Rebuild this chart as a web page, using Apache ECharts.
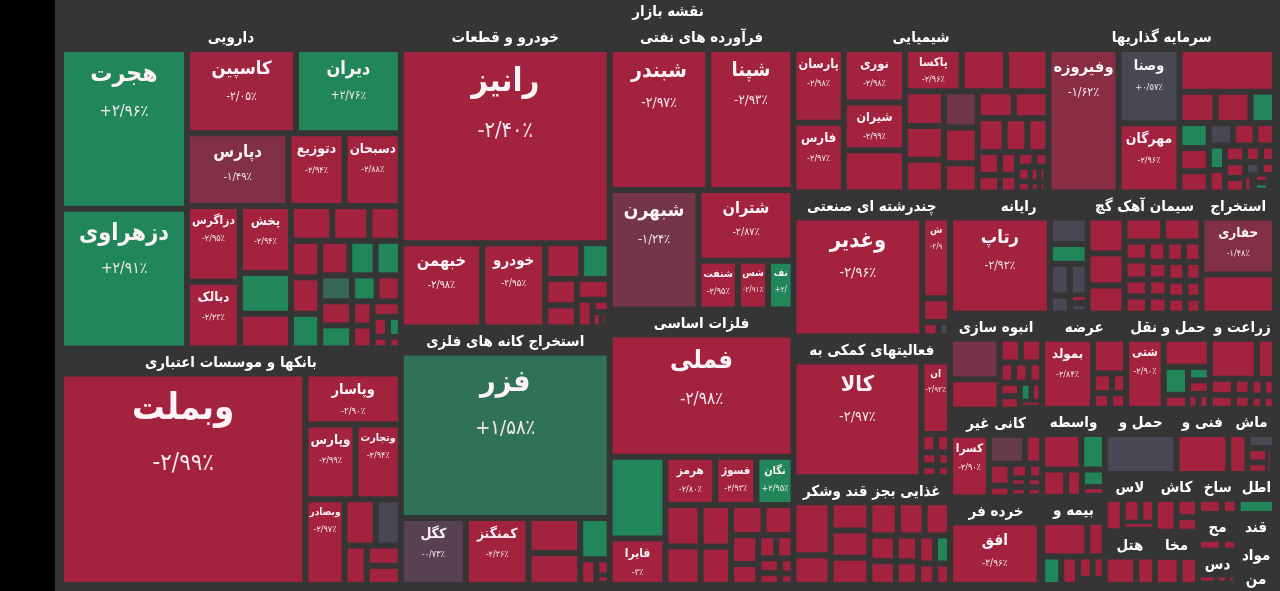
<!DOCTYPE html>
<html>
<head>
<meta charset="utf-8">
<title>نقشه بازار</title>
<script src="https://cdn.jsdelivr.net/npm/echarts@6.0.0/dist/echarts.min.js"></script>
<style>
  html, body { margin: 0; padding: 0; background: #000; }
  #chart { position: absolute; left: 55px; top: 0; width: 1225px; height: 591px; background: #353535; }
</style>
</head>
<body>
<div id="chart"></div>
<script>
// گروه ها (اندازه تقریبی هر گروه از روی تصویر)
const sectorNames = ['دارویی', 'بانکها و موسسات اعتباری', 'خودرو و قطعات', 'استخراج کانه های فلزی',
  'فرآورده های نفتی', 'فلزات اساسی', 'شیمیایی', 'سرمایه گذاریها', 'چندرشته ای صنعتی',
  'فعالیتهای کمکی به', 'غذایی بجز قند وشکر', 'رایانه', 'سیمان آهک گچ', 'استخراج', 'انبوه سازی',
  'کانی غیر', 'خرده فروشی', 'عرضه', 'حمل و نقل', 'زراعت و', 'بیمه و', 'واسطه', 'حمل و', 'فنی و',
  'ماشین', 'لاستیک', 'هتل', 'کاشی', 'مخابرات', 'ساخت', 'اطلاعات', 'محصولات', 'دستگاه', 'قند',
  'مواد', 'منسوجات'];
const sectorSizes = [110825, 80817, 63688, 54051, 52767, 50922, 43200, 38400, 22608, 22137, 16956,
  16740, 13860, 8950, 8900, 8150, 8100, 8050, 8000, 6250, 5544, 5544, 4680, 3380, 3055,
  2900, 2700, 2500, 2300, 1600, 1500, 1450, 1350, 1050, 900, 750];

// نمادها: نام، اندازه، درصد تغییر
const pharmaNames = ['هجرت', 'دزهراوی', 'کاسپین', 'دیران', 'دپارس', 'دتوزیع', 'دسبحان', 'دزاگرس', 'دبالک', 'پخش'];
const pharmaSizes = [19716, 17236, 8988, 8652, 7227, 4015, 4010, 3922, 3445, 3350, 2040, 1734, 1400, 1260, 1073, 1050, 1044, 990, 986, 891, 858, 810, 750, 720, 621, 620, 483, 459, 432, 300, 252, 180, 140];
const pharmaChanges = [2.96, 2.91, -2.05, 2.76, -1.49, -2.94, -2.88, -2.95, -2.23, -2.94, 2.9, -2.9, -2.9, -2.9, -2.9, -2.9, -2.9, 2.9, -2.9, 2.9, 2.9, 1.3, -2.9, 2.9, 2.9, -2.9, -2.9, -2.9, -2.9, -2.9, 2.9, -2.9, -2.9];

const bankNames = ['وبملت', 'وپاسار', 'وپارس', 'وتجارت', 'وبصادر'];
const bankSizes = [49800, 4700, 3610, 3268, 3236, 1380, 1120, 840, 665, 630];
const bankChanges = [-2.99, -2.90, -2.99, -2.94, -2.97, -2.9, -0.3, -2.9, -2.9, -2.9];

const autoNames = ['رانیز', 'خبهمن', 'خودرو'];
const autoSizes = [38784, 6552, 5082, 1224, 972, 806, 672, 651, 414, 200, 150, 100];
const autoChanges = [-2.40, -2.98, -2.95, -2.9, 2.9, -2.9, -2.9, -2.9, -2.9, -2.9, -2.9, -2.9];

const oreNames = ['فزر', 'کگل', 'کمنگنز'];
const oreSizes = [32522, 4092, 3960, 1700, 1550, 1147, 392, 200, 120];
const oreChanges = [1.58, -0.73, -2.36, -2.9, -2.9, 2.9, -2.9, -2.9, -2.9];

const oilNames = ['شبندر', 'شپنا', 'شبهرن', 'شتران', 'شنفت', 'شسپا', 'نفت'];
const oilSizes = [13205, 11398, 10089, 6405, 1824, 1392, 1176];
const oilChanges = [-2.97, -2.93, -1.24, -2.87, -2.95, -2.91, 2.9];

const metalNames = ['فملی', '', 'فایرا', 'هرمز', 'فسوژ', 'نگان'];
const metalSizes = [21548, 4362, 2483, 2304, 1901, 1715, 1404, 1296, 1209, 1116, 936, 864, 756, 552, 399, 384, 300, 250, 200, 150];
const metalChanges = [-2.98, 2.9, -3, -2.80, -2.93, 2.95, -2.9, -2.9, -2.9, -2.9, -2.9, -2.9, -2.9, -2.9, -2.9, -2.9, -2.9, -2.9, -2.9, -2.9];

const chemNames = ['پارسان', 'فارس', 'نوری', 'شیران', '', 'پاکسا'];
const chemSizes = [3650, 3450, 3233, 2867, 2562, 2352, 1848, 1764, 1330, 1292, 1254, 1200, 1188, 972, 957, 918, 900, 756, 702, 504, 384, 384, 300, 250, 200, 200, 150, 150, 120, 100, 80];
const chemChanges = [-2.98, -2.97, -2.98, -2.99, -2.9, -2.96, -2.9, -2.9, -2.9, -2.9, -2.9, -1.2, -2.9, -2.9, -2.9, -2.9, -2.9, -2.9, -2.9, -2.9, -2.9, -2.9, -2.9, -2.9, -2.9, -2.9, -2.9, -2.9, -2.9, -2.9, -2.9];

const investNames = ['وفیروزه', 'وصنا', 'مهرگان'];
const investSizes = [9630, 4329, 4032, 3900, 1085, 1050, 735, 700, 650, 600, 520, 480, 420, 380, 350, 320, 300, 280, 250, 220, 200, 180, 150, 130, 120, 100];
const investChanges = [-1.62, 0.57, -2.96, -2.9, -2.9, -2.9, 2.9, 2.9, -2.9, -2.9, -0.4, -2.9, -2.9, 2.9, -2.9, -2.9, -2.9, -2.9, -2.9, -2.9, -0.5, -2.9, -2.9, -2.9, 2.9, -2.9];

const multiNames = ['وغدیر', 'شستا'];
const multiSizes = [14384, 2102, 621, 221, 150];
const multiChanges = [-2.96, -2.91, -2.9, -2.9, -0.2];

const auxNames = ['کالا', 'انرژی'];
const auxSizes = [14125, 1993, 260, 240, 200, 180, 160, 140];
const auxChanges = [-2.97, -2.92, -2.9, -2.9, -2.9, -2.9, -2.9, -2.9];

const foodNames = [];
const foodSizes = [1872, 1044, 1043, 1008, 1007, 900, 850, 800, 650, 600, 550, 500, 450, 400, 350, 300];
const foodChanges = [-2.9, -2.9, -2.9, -2.9, -2.9, -2.9, -2.9, -2.9, -2.9, -2.9, -2.9, -2.9, -2.9, 2.9, -2.9, -2.9];

const compNames = ['رتاپ'];
const compSizes = [8982, 928, 703, 589, 527, 342, 150, 149];
const compChanges = [-2.92, -0.4, 2.9, -0.3, -0.2, -0.4, -2.9, -0.1];

const cementNames = [];
const cementSizes = [1327, 1188, 1045, 925, 917, 441, 441, 399, 399, 378, 357, 357, 342, 336, 336, 336, 306, 304, 288, 272, 256];
const cementChanges = [-2.9, -2.9, -2.9, -2.9, -2.9, -2.9, -2.9, -2.9, -2.9, -2.9, -2.9, -2.9, -2.9, -2.9, -2.9, -2.9, -2.9, -2.9, -2.9, -2.9, -2.9];

const mineNames = ['حفاری'];
const mineSizes = [3618, 2479];
const mineChanges = [-1.48, -2.9];

const buildNames = [];
const buildSizes = [1809, 1365, 457, 457, 266, 266, 247, 247, 247, 200, 180, 160];
const buildChanges = [-1.3, -2.9, -2.9, -2.9, -2.9, -2.9, -2.9, -2.9, -2.9, 2.9, -2.9, -2.9];

const mineralNames = ['کسرا'];
const mineralSizes = [2379, 1014, 487, 462, 250, 250, 200, 150, 150, 150, 140];
const mineralChanges = [-2.90, -1.0, -2.9, -2.9, -2.9, -2.9, -2.9, -2.9, -2.9, -2.9, -2.9];

const retailNames = ['افق'];
const retailSizes = [5392, 150];
const retailChanges = [-2.96, -2.9];

const powerNames = ['بمولد'];
const powerSizes = [3405, 1096, 355, 270, 256, 240];
const powerChanges = [-2.84, -2.9, -2.9, -2.9, -2.9, -2.9];

const transNames = ['شتی'];
const transSizes = [2431, 1196, 629, 318, 273, 272, 150, 149];
const transChanges = [-2.90, -2.9, 2.9, -2.9, 2.5, -2.9, -2.9, -2.9];

const agriNames = [];
const agriSizes = [1756, 673, 363, 309, 250, 220, 200, 180, 150, 149];
const agriChanges = [-2.9, -2.9, -2.9, -2.9, -2.9, -2.9, -2.9, -2.9, -2.9, -2.9];

const insurNames = [];
const insurSizes = [1423, 555, 496, 434, 300, 250, 150];
const insurChanges = [-2.9, -2.9, 2.9, -2.9, -2.9, -2.9, -2.9];

const brokerNames = [];
const brokerSizes = [1233, 742, 583, 384, 357, 200];
const brokerChanges = [-2.9, 2.9, -2.9, -2.9, 2.9, -2.9];

const trans2Sizes = [2315];
const trans2Changes = [-0.4];
const techSizes = [1703];
const techChanges = [-2.9];
const machSizes = [642, 328, 250, 200, 150];
const machChanges = [-2.9, -0.3, -2.9, -2.9, -2.9];

const tireSizes = [420, 300, 250, 200];
const hotelSizes = [500, 300];
const tileSizes = [450, 250, 200];
const telecomSizes = [400, 300];
const metalProdSizes = [300, 200];
const infoSizes = [350];
const woodSizes = [400, 250];
const deviceSizes = [300, 200, 150];
const sugarSizes = [250, 150];
const materialSizes = [200, 100];
const textileSizes = [150, 100];
const smallChanges = [-2.9, -2.9, -2.9, -2.9];
const infoChanges = [2.9];

const sectorLeaves = [
  [pharmaNames, pharmaSizes, pharmaChanges],
  [bankNames, bankSizes, bankChanges],
  [autoNames, autoSizes, autoChanges],
  [oreNames, oreSizes, oreChanges],
  [oilNames, oilSizes, oilChanges],
  [metalNames, metalSizes, metalChanges],
  [chemNames, chemSizes, chemChanges],
  [investNames, investSizes, investChanges],
  [multiNames, multiSizes, multiChanges],
  [auxNames, auxSizes, auxChanges],
  [foodNames, foodSizes, foodChanges],
  [compNames, compSizes, compChanges],
  [cementNames, cementSizes, cementChanges],
  [mineNames, mineSizes, mineChanges],
  [buildNames, buildSizes, buildChanges],
  [mineralNames, mineralSizes, mineralChanges],
  [retailNames, retailSizes, retailChanges],
  [powerNames, powerSizes, powerChanges],
  [transNames, transSizes, transChanges],
  [agriNames, agriSizes, agriChanges],
  [insurNames, insurSizes, insurChanges],
  [brokerNames, brokerSizes, brokerChanges],
  [[], trans2Sizes, trans2Changes],
  [[], techSizes, techChanges],
  [[], machSizes, machChanges],
  [[], tireSizes, smallChanges],
  [[], hotelSizes, smallChanges],
  [[], tileSizes, smallChanges],
  [[], telecomSizes, smallChanges],
  [[], metalProdSizes, smallChanges],
  [[], infoSizes, infoChanges],
  [[], woodSizes, smallChanges],
  [[], deviceSizes, smallChanges],
  [[], sugarSizes, smallChanges],
  [[], materialSizes, smallChanges],
  [[], textileSizes, smallChanges]
];

var FONT = "'DejaVu Sans Condensed', 'DejaVu Sans'";
var BG = '#353535';
var NEUTRAL = [75, 70, 83], RED = [163, 34, 62], GREEN = [33, 135, 90];
var leafIndex = {};
var leafCount = 0;

function tileColor(c) {
  var t = Math.max(0, Math.min(1, (Math.abs(c) - 0.5) / 1.6));
  var to = c < 0 ? RED : GREEN;
  var rgb = NEUTRAL.map(function (v, i) { return Math.round(v + (to[i] - v) * t); });
  return 'rgb(' + rgb.join(',') + ')';
}

function fmtPct(c) {
  var a = Math.abs(c);
  var s = Number.isInteger(a) ? String(a) : a.toFixed(2);
  s = s.replace(/[0-9]/g, function (d) { return '۰۱۲۳۴۵۶۷۸۹'[d]; }).replace('.', '/');
  return (c < 0 ? '-' : '+') + s + '٪';
}

function richStyle(ns, ps, lh) {
  return {
    n: { fontFamily: FONT, fontWeight: 'bold', fontSize: ns, lineHeight: Math.round(ns * lh), color: '#fbf3f5' },
    p: { fontFamily: FONT, fontSize: ps, lineHeight: Math.round(ps * lh), color: '#f3e9ec' }
  };
}

function buildLeaves(names, sizes, changes) {
  return sizes.map(function (v, i) {
    var side = Math.sqrt(v);
    var ns = Math.max(11, Math.min(40, 5 + side * 0.14));
    var ps = Math.max(9, Math.min(24, 3 + side * 0.095));
    var id = 'leaf' + (leafCount++);
    var item = {
      id: id,
      name: names[i] || '',
      value: v,
      pct: fmtPct(changes[i]),
      ns: ns,
      ps: ps,
      itemStyle: { color: tileColor(changes[i]) },
      label: { rich: richStyle(ns, ps, 1.8) }
    };
    leafIndex[id] = item;
    return item;
  });
}

var sectorData = sectorNames.map(function (name, i) {
  var s = sectorLeaves[i];
  return { name: name, value: sectorSizes[i], children: buildLeaves(s[0], s[1], s[2]) };
});

var option = {
  backgroundColor: BG,
  animation: false,
  series: [{
    type: 'treemap',
    left: 7, top: 0, width: 1212, height: 584,
    roam: false,
    nodeClick: false,
    breadcrumb: { show: false },
    squareRatio: 1,
    sort: 'desc',
    visibleMin: 0,
    itemStyle: { borderColor: BG, borderWidth: 0, gapWidth: 0 },
    levels: [
      { itemStyle: { borderColor: BG, borderWidth: 0, gapWidth: 0 } },
      {
        itemStyle: { color: BG, borderColor: BG, borderWidth: 0, gapWidth: 2 },
        upperLabel: { show: true, height: 25, position: 'inside', color: '#fff', fontFamily: FONT, fontWeight: 'bold', fontSize: 15 }
      },
      {
        itemStyle: { color: BG, borderColor: BG, borderWidth: 2, gapWidth: 6 },
        upperLabel: { show: true, height: 27, position: 'inside', color: '#fff', fontFamily: FONT, fontWeight: 'bold', fontSize: 15, overflow: 'truncate', ellipsis: '' }
      },
      {
        itemStyle: { borderColor: BG, borderWidth: 0, gapWidth: 0 },
        label: {
          show: true, position: 'inside', padding: 1, overflow: 'truncate', ellipsis: '',
          formatter: function (p) {
            if (!p.name) return '';
            return '{n|' + p.name + '}\n{p|' + p.data.pct + '}';
          }
        }
      }
    ],
    data: [{ name: 'نقشه بازار', children: sectorData }]
  }]
};

var chart = echarts.init(document.getElementById('chart'));
chart.setOption(option);

// اندازه قلم هر نماد را با پهنای خانه ای که کتابخانه چیده است تنظیم کن
var ctx = document.createElement('canvas').getContext('2d');
function textWidth(text, size, weight) {
  ctx.font = weight + ' ' + size + 'px ' + FONT;
  return ctx.measureText(text).width;
}
var seriesData = chart.getModel().getSeriesByIndex(0).getData();
seriesData.tree.root.eachNode(function (node) {
  if (node.children && node.children.length) return;
  var raw = seriesData.getRawDataItem(node.dataIndex);
  var item = raw && leafIndex[raw.id];
  if (!item || !item.name) return;
  var lay = node.getLayout();
  if (!lay) return;
  var avail = lay.width - 4;
  var ns = Math.max(10, item.ns * Math.min(1, avail / textWidth(item.name, item.ns, 'bold')));
  var ps = Math.max(8, item.ps * Math.min(1, avail / textWidth(item.pct, item.ps, 'normal')));
  var lh = Math.max(1.15, Math.min(1.8, (lay.height - 2) / (ns + ps)));
  item.label = { rich: richStyle(ns, ps, lh) };
});
chart.setOption(option, true);
</script>
</body>
</html>
